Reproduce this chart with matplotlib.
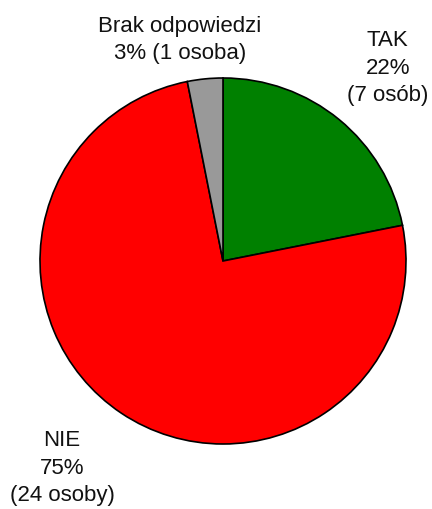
#!/usr/bin/env python3
"""
pie chart of survey answers (TAK / NIE / Brak odpowiedzi)
"""

import matplotlib
matplotlib.use('Agg')
import matplotlib.pyplot as plt

plt.rcParams['font.family'] = ['Liberation Sans', 'DejaVu Sans']

# data, in drawing order (clockwise from the top)
answers = ['TAK', 'NIE', 'Brak odpowiedzi']
counts = [7, 24, 1]
people = ['7 osób', '24 osoby', '1 osoba']
colors = ['#008000', '#ff0000', '#999999']

# label placement in pie-radius units
label_pos = [(0.90, 1.06), (-0.88, -1.126), (-0.235, 1.213)]

total = sum(counts)
percents = [round(c / total * 100) for c in counts]

fig = plt.figure(figsize=(4.32, 5.10), dpi=100)
# pie box: center (223, 262) px, radius 183 px
ax = fig.add_axes([40 / 432, 65 / 510, 366 / 432, 366 / 510])
ax.pie(counts, colors=colors, startangle=90, counterclock=False,
       radius=1.0, wedgeprops={'edgecolor': 'black', 'linewidth': 1.2})
ax.set_xlim(-1, 1)
ax.set_ylim(-1, 1)
ax.set_aspect('equal')
ax.axis('off')

for name, pct, ppl, (x, y) in zip(answers, percents, people, label_pos):
    if name == 'Brak odpowiedzi':
        txt = f'{name}\n{pct}% ({ppl})'
    else:
        txt = f'{name}\n{pct}%\n({ppl})'
    ax.text(x, y, txt, ha='center', va='center', fontsize=16,
            linespacing=1.43, color='#111111', clip_on=False)

fig.savefig('out.png', dpi=100)
plt.close(fig)
